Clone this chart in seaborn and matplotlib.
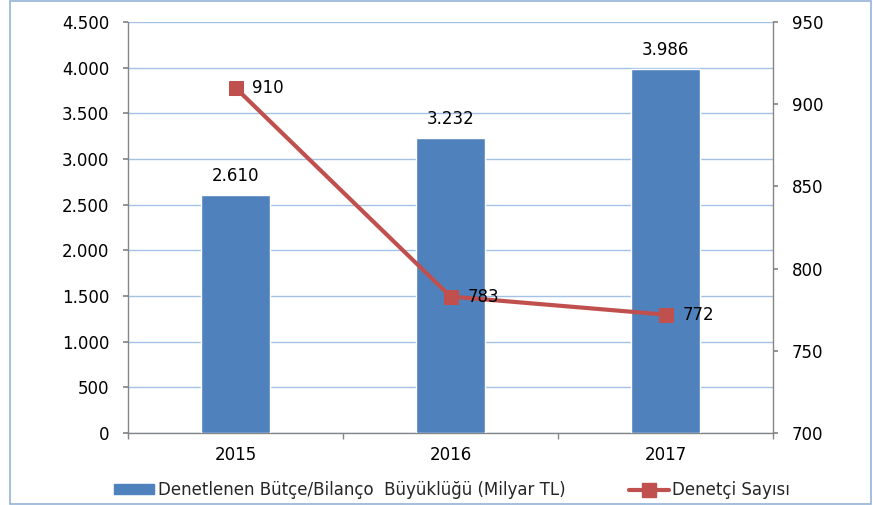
import numpy as np
import pandas as pd
import seaborn as sns
import matplotlib.pyplot as plt
from matplotlib.ticker import FuncFormatter, FixedLocator, MultipleLocator
from matplotlib.patches import Rectangle, Patch
from matplotlib.lines import Line2D

# data
years = ['2015', '2016', '2017']
budget = [2610, 3232, 3986]       # Denetlenen Bütçe/Bilanço Büyüklüğü (Milyar TL)
auditors = [910, 783, 772]        # Denetçi Sayısı

bar_label = 'Denetlenen Bütçe/Bilanço  Büyüklüğü (Milyar TL)'
line_label = 'Denetçi Sayısı'

blue = '#4F81BD'
red = '#C0504D'
grid_col = '#A5C2E6'
axis_col = '#868686'
fs = 12

sns.set_theme(style='white')
plt.rcParams['font.family'] = ['DejaVu Sans']

df = pd.DataFrame({'year': years, 'budget': budget, 'auditors': auditors})
df['pos'] = np.arange(len(df))

fig = plt.figure(figsize=(8.73, 5.05), dpi=100)
ax = fig.add_axes([128 / 873, 1 - 433 / 505, 645 / 873, 411 / 505])

sns.barplot(data=df, x='year', y='budget', color=blue, width=0.32,
            saturation=1, ax=ax, zorder=3)
ax.set_xlim(-0.5, 2.5)
ax.set_ylim(0, 4500)
ax.yaxis.set_major_locator(MultipleLocator(500))
ax.yaxis.set_major_formatter(FuncFormatter(lambda v, p: f'{int(v):,}'.replace(',', '.')))
ax.grid(axis='y', color=grid_col, linewidth=1, zorder=0)
ax.set_axisbelow(True)
ax.set_xlabel('')
ax.set_ylabel('')

for i, v in enumerate(df['budget']):
    ax.annotate(f'{v:,}'.replace(',', '.'), (i, v), xytext=(0, 7),
                textcoords='offset points', ha='center', va='bottom',
                fontsize=fs, color='black', zorder=5)

# x ticks between categories
ax.xaxis.set_minor_locator(FixedLocator([-0.5, 0.5, 1.5, 2.5]))
ax.tick_params(axis='x', which='major', length=0, pad=9, labelsize=fs, colors='black')
ax.tick_params(axis='x', which='minor', length=4, color=axis_col, direction='out', bottom=True)
ax.tick_params(axis='y', length=3.5, color=axis_col, direction='out', labelsize=fs,
               labelcolor='black', pad=10, left=True)

for s in ['top', 'right']:
    ax.spines[s].set_visible(False)
for s in ['left', 'bottom']:
    ax.spines[s].set_color(axis_col)
    ax.spines[s].set_linewidth(1)

ax2 = ax.twinx()
sns.lineplot(data=df, x='pos', y='auditors', color=red, linewidth=3,
             marker='s', markersize=10, markeredgecolor=red, ax=ax2, zorder=4)
ax2.set_ylim(700, 950)
ax2.set_xlim(-0.5, 2.5)
ax2.yaxis.set_major_locator(MultipleLocator(50))
ax2.set_ylabel('')
ax2.set_xlabel('')
ax2.tick_params(axis='y', length=3.5, color=axis_col, direction='out', labelsize=fs,
                labelcolor='black', pad=10, right=True)
for s in ['top', 'left', 'bottom']:
    ax2.spines[s].set_visible(False)
ax2.spines['right'].set_color(axis_col)
ax2.spines['right'].set_linewidth(1)

for i, v in enumerate(df['auditors']):
    ax2.annotate(str(v), (i, v), xytext=(12, 0), textcoords='offset points',
                 ha='left', va='center', fontsize=fs, color='black', zorder=6)

handles = [Patch(facecolor=blue, edgecolor=blue),
           Line2D([0], [0], color=red, linewidth=3, marker='s', markersize=10)]
fig.legend(handles, [bar_label, line_label], loc='center', ncol=2,
           bbox_to_anchor=(452 / 873, 1 - 490 / 505), frameon=False,
           fontsize=fs, handlelength=2.4, handleheight=0.55, handletextpad=0.2,
           columnspacing=3.8)

fig.patches.append(Rectangle((10 / 873, 1 / 505), 861 / 873, 503 / 505,
                             transform=fig.transFigure, fill=False,
                             edgecolor='#95B3D7', linewidth=1.2))

fig.savefig('out.png', dpi=100)
